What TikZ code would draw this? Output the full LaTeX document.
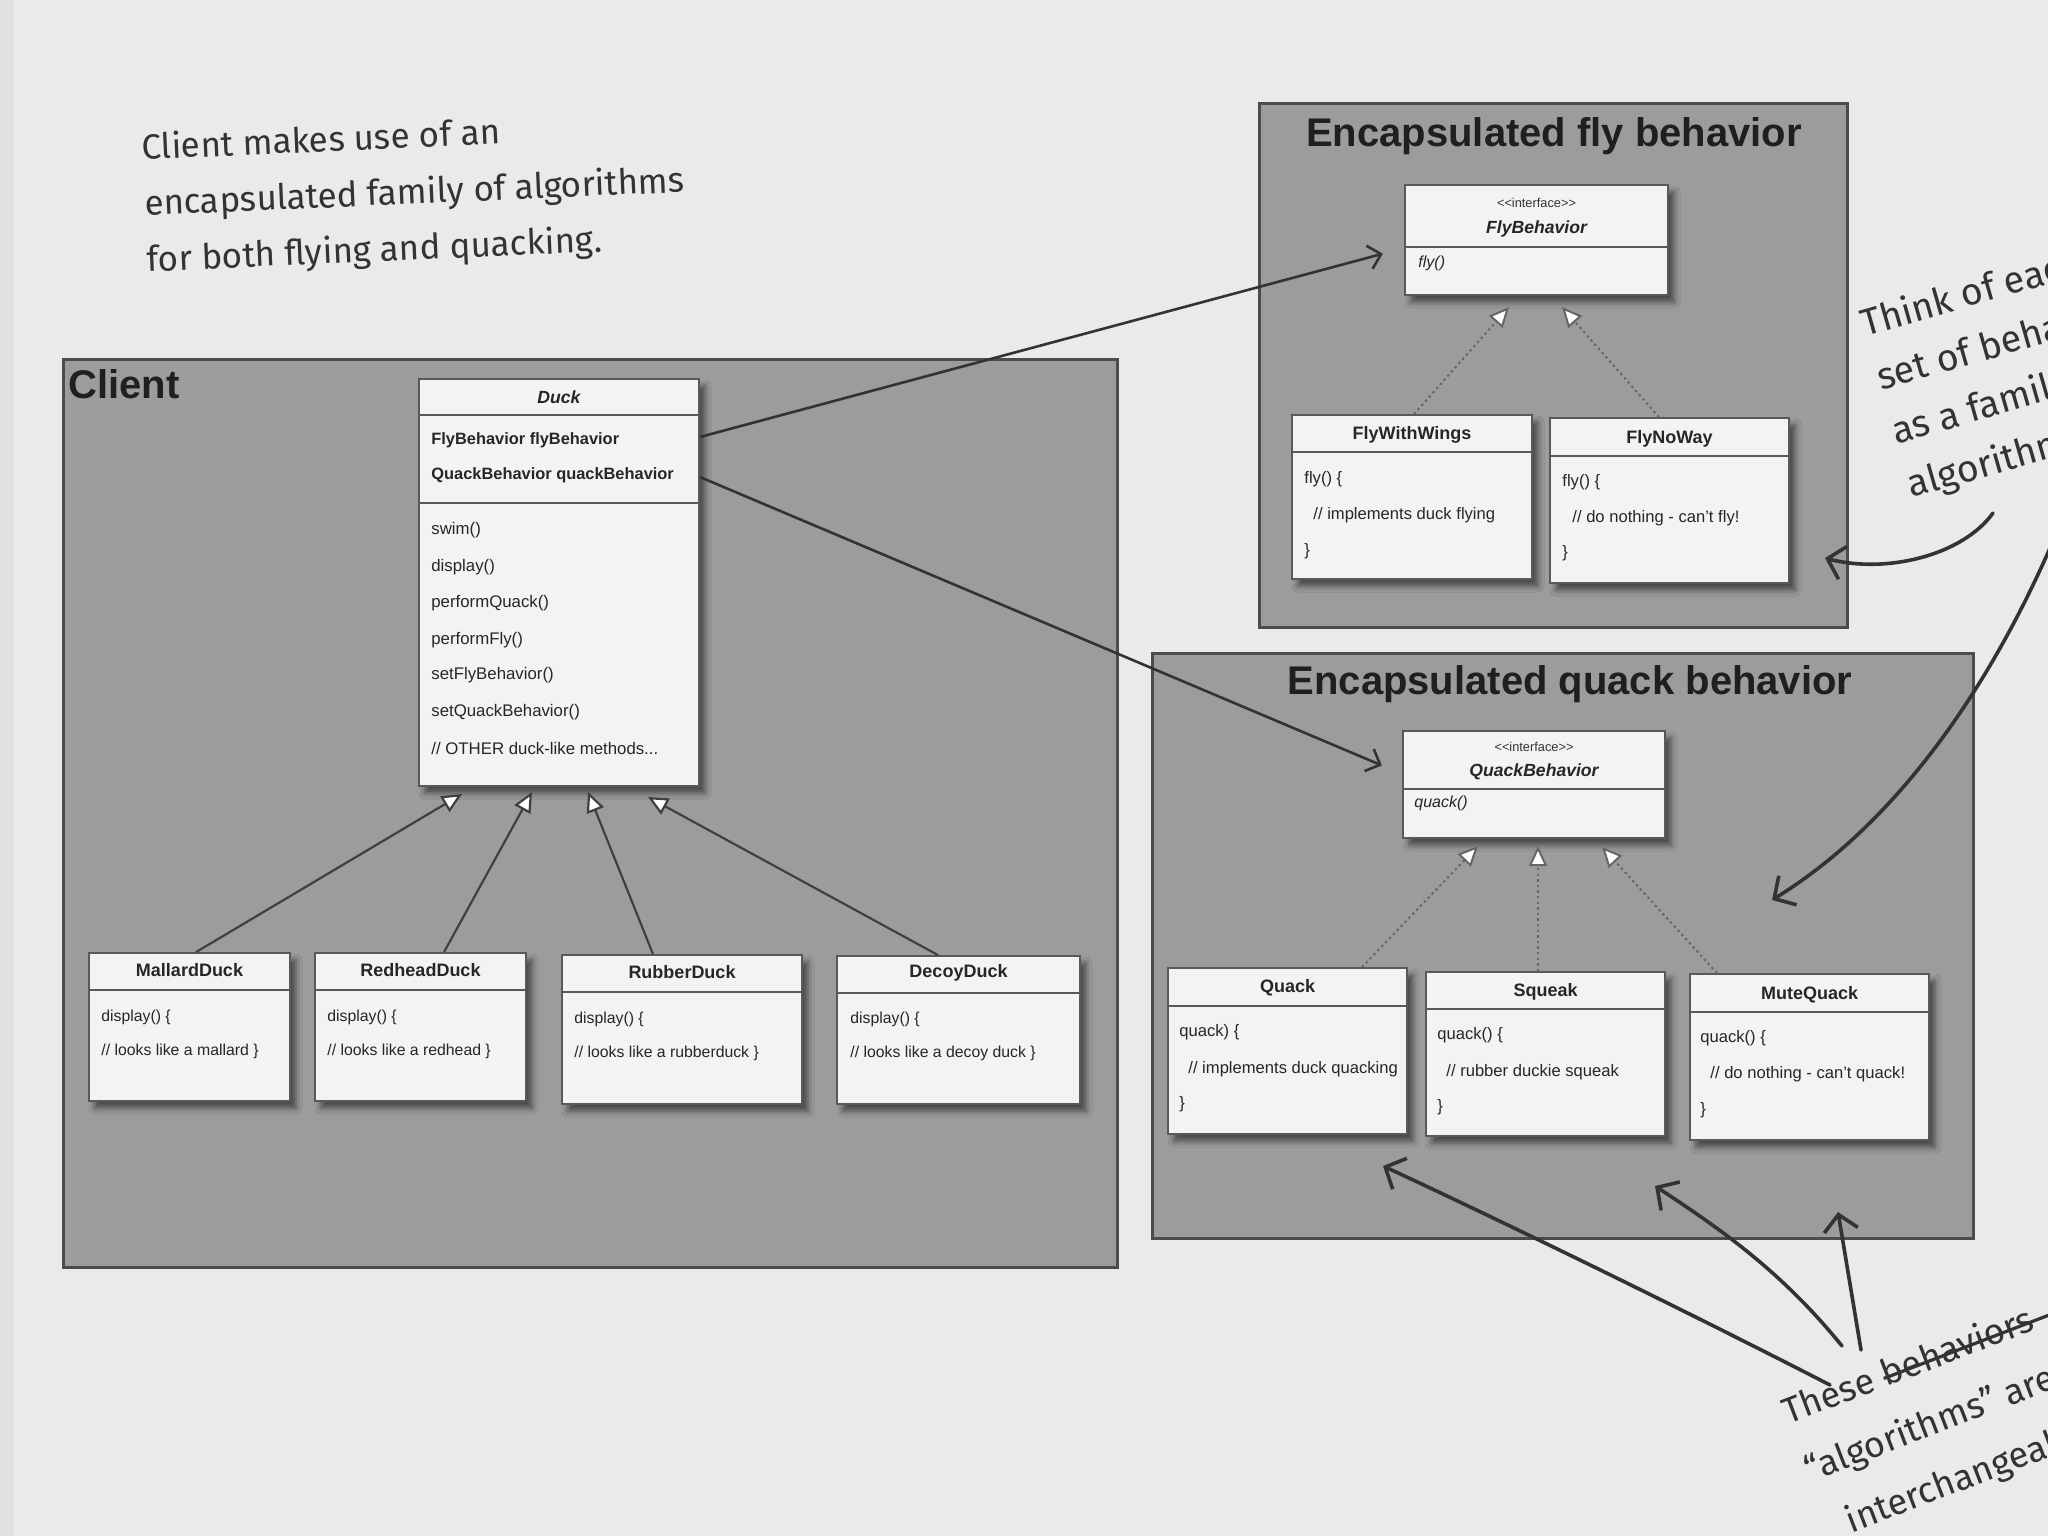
\documentclass[tikz,border=0pt]{standalone}
\usepackage{fontspec}
\setmainfont{Liberation Sans}
\newfontfamily\handfont{Fira Sans}
\usetikzlibrary{arrows.meta,shadows.blur,fit,calc}

\newcommand\mystrike[1]{\sbox0{#1}\rlap{\rule[0.38ex]{1.12\wd0}{1.6pt}}\usebox0}

\definecolor{paper}{HTML}{EAEAEA}
\definecolor{panelgray}{HTML}{9C9C9C}
\definecolor{boxfill}{HTML}{F3F3F3}
\definecolor{ink}{HTML}{333333}

\tikzset{
  panel/.style={draw=black!70, line width=1.5pt, fill=panelgray, inner sep=0pt},
  uml/.style={draw=black!65, line width=0.9pt, fill=boxfill, inner sep=0pt,
    blur shadow={shadow xshift=3pt, shadow yshift=-3.5pt, shadow blur radius=3pt, shadow opacity=55}},
  divider/.style={draw=black!65, line width=0.9pt},
  paneltitle/.style={font=\bfseries\fontsize{20}{22}\selectfont, text=black!88, inner sep=0pt},
  cname/.style={font=\bfseries\fontsize{9}{10}\selectfont, text=black!85, inner sep=0pt},
  iname/.style={font=\bfseries\itshape\fontsize{8.8}{10}\selectfont, text=black!85, inner sep=0pt},
  stereo/.style={font=\fontsize{6.4}{7}\selectfont, text=black!80, inner sep=0pt},
  attr/.style={font=\bfseries\fontsize{8.2}{10}\selectfont, text=black!85, inner sep=0pt, anchor=west},
  meth/.style={font=\fontsize{8.4}{10}\selectfont, text=black!85, inner sep=0pt, anchor=west},
  imeth/.style={font=\itshape\fontsize{8}{10}\selectfont, text=black!85, inner sep=0pt, anchor=west},
  body/.style={font=\fontsize{7.9}{10}\selectfont, text=black!85, inner sep=0pt, anchor=west},
  bbody/.style={font=\fontsize{8.3}{10}\selectfont, text=black!85, inner sep=0pt, anchor=west},
  inh/.style={draw=black!75, line width=1.1pt, -{Triangle[length=10pt,width=9pt,fill=white]}},
  real/.style={draw=black!60, line width=1pt, dash pattern=on 1.2pt off 1.6pt,
    -{Triangle[length=10pt,width=9pt,fill=white]}},
  assoc/.style={draw=black!80, line width=1.3pt, -{Straight Barb[length=6pt,width=12pt]}},
  handtext/.style={font=\handfont\fontsize{17.5}{28}\selectfont, text=ink, inner sep=0pt, align=left},
  handarrow/.style={draw=ink, line width=1.8pt, line cap=round,
    -{Straight Barb[length=8pt,width=17pt,line width=1.8pt]}},
}

\begin{document}
\begin{tikzpicture}[x=0.5pt,y=-0.5pt]
\useasboundingbox (0,0) rectangle (2048,1536);
\fill[paper] (0,0) rectangle (2048,1536);
\fill[black!12] (0,0) rectangle (14,1536);
\clip (0,0) rectangle (2048,1536);

% ---------- panels ----------
\node[panel, fit={(63,359) (1117,1267)}] (client) {};
\node[panel, fit={(1259,104) (1847,627)}] (flybox) {};
\node[panel, fit={(1152,653) (1973,1238)}] (quackbox) {};

\node[paneltitle, anchor=north west] (clientlbl) at (68,369) {Client};
\node[paneltitle] (flytitle) at (1554,136) {Encapsulated fly behavior};
\node[paneltitle] (quacktitle) at (1570,684) {Encapsulated quack behavior};

% ---------- Duck ----------
\node[uml, fit={(419,379) (699,786)}] (duck) {};
\draw[divider] (duck.west |- 0,415) -- (duck.east |- 0,415);
\draw[divider] (duck.west |- 0,503) -- (duck.east |- 0,503);
\node[iname] (duckname) at (559,397) {Duck};
\node[attr] (da1) at (431,440) {FlyBehavior flyBehavior};
\node[attr] (da2) at (431,475) {QuackBehavior quackBehavior};
\node[meth] (dm1) at (431,530) {swim()};
\node[meth] (dm2) at (431,567) {display()};
\node[meth] (dm3) at (431,603) {performQuack()};
\node[meth] (dm4) at (431,640) {performFly()};
\node[meth] (dm5) at (431,675) {setFlyBehavior()};
\node[meth] (dm6) at (431,712) {setQuackBehavior()};
\node[meth] (dm7) at (431,748) {// OTHER duck-like methods...};

% ---------- duck subclasses ----------
\node[uml, fit={(89,953) (290,1101)}] (mallard) {};
\draw[divider] (mallard.west |- 0,990) -- (mallard.east |- 0,990);
\node[cname] (mallardname) at (189.5,970) {MallardDuck};
\node[body] (mallardb1) at (101,1017) {display() \{};
\node[body] (mallardb2) at (101,1051) {// looks like a mallard \}};

\node[uml, fit={(315,953) (526,1101)}] (redhead) {};
\draw[divider] (redhead.west |- 0,990) -- (redhead.east |- 0,990);
\node[cname] (redheadname) at (420.5,970) {RedheadDuck};
\node[body] (redheadb1) at (327,1017) {display() \{};
\node[body] (redheadb2) at (327,1051) {// looks like a redhead \}};

\node[uml, fit={(562,955) (802,1104)}] (rubber) {};
\draw[divider] (rubber.west |- 0,992) -- (rubber.east |- 0,992);
\node[cname] (rubbername) at (682,972) {RubberDuck};
\node[body] (rubberb1) at (574,1019) {display() \{};
\node[body] (rubberb2) at (574,1053) {// looks like a rubberduck \}};

\node[uml, fit={(837,956) (1080,1104)}] (decoy) {};
\draw[divider] (decoy.west |- 0,993) -- (decoy.east |- 0,993);
\node[cname] (decoyname) at (958.5,973) {DecoyDuck};
\node[body] (decoyb1) at (850,1019) {display() \{};
\node[body] (decoyb2) at (850,1053) {// looks like a decoy duck \}};

% inheritance arrows
\coordinate (tipm) at (462,794);
\coordinate (tipr) at (532,792);
\coordinate (tipru) at (588,792);
\coordinate (tipd) at (648,797);
\draw[inh] (mallard.north -| 196,0) -- (tipm);
\draw[inh] (redhead.north -| 444,0) -- (tipr);
\draw[inh] (rubber.north -| 653,0) -- (tipru);
\draw[inh] (decoy.north -| 938,0) -- (tipd);

% ---------- FlyBehavior ----------
\node[uml, fit={(1405,185) (1668,295)}] (flyiface) {};
\draw[divider] (flyiface.west |- 0,247) -- (flyiface.east |- 0,247);
\node[stereo] (flystereo) at (1536.5,203) {{<}{<}interface{>}{>}};
\node[iname] (flyname) at (1536.5,229) {FlyBehavior};
\node[imeth] (flym) at (1418,263) {fly()};

\node[uml, fit={(1292,415) (1532,579)}] (wings) {};
\draw[divider] (wings.west |- 0,452) -- (wings.east |- 0,452);
\node[cname] (wingsname) at (1412,435) {FlyWithWings};
\node[bbody] (wingsb1) at (1304,479) {fly() \{};
\node[bbody] (wingsb2) at (1313,515) {// implements duck flying};
\node[bbody] (wingsb3) at (1304,551) {\}};

\node[uml, fit={(1550,418) (1789,583)}] (noway) {};
\draw[divider] (noway.west |- 0,456) -- (noway.east |- 0,456);
\node[cname] (nowayname) at (1669.5,439) {FlyNoWay};
\node[bbody] (nowayb1) at (1562,482) {fly() \{};
\node[bbody] (nowayb2) at (1572,518) {// do nothing - can't fly!};
\node[bbody] (nowayb3) at (1562,553) {\}};

\coordinate (tipf1) at (1509,307);
\coordinate (tipf2) at (1562,307);
\draw[real] (wings.north -| 1414,0) -- (tipf1);
\draw[real] (noway.north -| 1659,0) -- (tipf2);

% ---------- QuackBehavior ----------
\node[uml, fit={(1403,731) (1665,838)}] (qiface) {};
\draw[divider] (qiface.west |- 0,789) -- (qiface.east |- 0,789);
\node[stereo] (qstereo) at (1534,747) {{<}{<}interface{>}{>}};
\node[iname] (qname) at (1534,772) {QuackBehavior};
\node[imeth] (qm) at (1414,803) {quack()};

\node[uml, fit={(1168,968) (1407,1134)}] (quack) {};
\draw[divider] (quack.west |- 0,1006) -- (quack.east |- 0,1006);
\node[cname] (quackname) at (1287.5,988) {Quack};
\node[bbody] (quackb1) at (1179,1032) {quack) \{};
\node[bbody] (quackb2) at (1188,1069) {// implements duck quacking};
\node[bbody] (quackb3) at (1179,1104) {\}};

\node[uml, fit={(1426,972) (1665,1136)}] (squeak) {};
\draw[divider] (squeak.west |- 0,1009) -- (squeak.east |- 0,1009);
\node[cname] (squeakname) at (1545.5,992) {Squeak};
\node[bbody] (squeakb1) at (1437,1035) {quack() \{};
\node[bbody] (squeakb2) at (1446,1072) {// rubber duckie squeak};
\node[bbody] (squeakb3) at (1437,1107) {\}};

\node[uml, fit={(1690,974) (1929,1140)}] (mute) {};
\draw[divider] (mute.west |- 0,1012) -- (mute.east |- 0,1012);
\node[cname] (mutename) at (1809.5,995) {MuteQuack};
\node[bbody] (muteb1) at (1700,1038) {quack() \{};
\node[bbody] (muteb2) at (1710,1074) {// do nothing - can't quack!};
\node[bbody] (muteb3) at (1700,1110) {\}};

\coordinate (tipq1) at (1478,846);
\coordinate (tipq2) at (1538,846);
\coordinate (tipq3) at (1602,847);
\draw[real] (quack.north -| 1362,0) -- (tipq1);
\draw[real] (squeak.north -| 1538,0) -- (tipq2);
\draw[real] (mute.north -| 1717,0) -- (tipq3);

% ---------- associations ----------
\draw[assoc, shorten >=11pt] (duck.east |- 0,437) -- (flyiface.west |- 0,248);
\draw[assoc, shorten >=11pt] (duck.east |- 0,477) -- (qiface.west |- 0,774);

% ---------- handwritten notes ----------
\node[handtext, rotate=2.5, anchor=north west] (noteclient) at (141,132)
  {Client makes use of an\\encapsulated family of algorithms\\for both flying and quacking.};

\node[handtext, rotate=16, anchor=north west, font=\handfont\fontsize{18.8}{28}\selectfont] (notethink) at (1857,308)
  {Think of each\\set of behaviors\\as a family of\\algorithms.};

\node[handtext, rotate=21, anchor=north west, font=\handfont\fontsize{18}{31}\selectfont] (notethese) at (1778,1398)
  {These \mystrike{behaviors}\\“algorithms” are\\\hspace*{10pt}interchangeable.};

\coordinate (a1s) at (1993,513);
\coordinate (a1e) at (1825,558);
\draw[handarrow] (a1s) .. controls (1962,556) and (1885,574) .. (a1e);

\coordinate (a2s) at (2050,548);
\coordinate (a2e) at (1772,900);
\draw[handarrow] (a2s) .. controls (1992,680) and (1902,820) .. (a2e);

\coordinate (a3s) at (1830,1385);
\coordinate (a3e) at (1383,1166);
\draw[handarrow] (a3s) .. controls (1700,1318) and (1500,1220) .. (a3e);

\coordinate (a4s) at (1842,1346);
\coordinate (a4e) at (1655,1186);
\draw[handarrow] (a4s) .. controls (1782,1272) and (1722,1230) .. (a4e);

\coordinate (a5s) at (1861,1350);
\coordinate (a5e) at (1838,1212);
\draw[handarrow] (a5s) -- (a5e);
\end{tikzpicture}
\end{document}
